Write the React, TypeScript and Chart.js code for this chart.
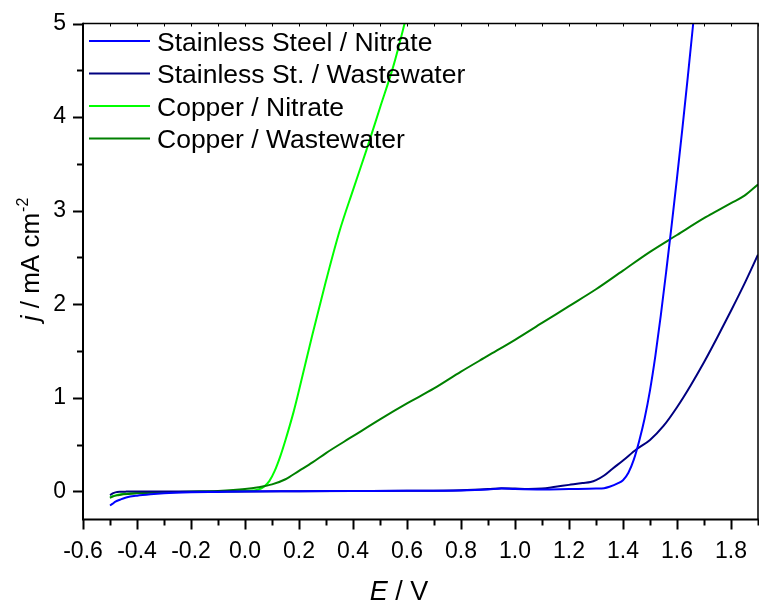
import React, { useEffect, useRef } from 'react';
import { Chart, registerables } from 'chart.js';

Chart.register(...registerables);

const FONT = '"Liberation Sans", Arial, Helvetica, sans-serif';

// ---- Data (E in V, j in mA cm^-2) ----
const ssNitrateE = [-0.5, -0.49, -0.48, -0.46, -0.44, -0.4, -0.35, -0.3, -0.2, -0.1, 0.0, 0.2, 0.4, 0.6, 0.8, 0.9, 0.95, 1.0, 1.1, 1.2, 1.3, 1.33, 1.35, 1.38, 1.4, 1.42, 1.44, 1.46, 1.48, 1.5, 1.52, 1.54, 1.56, 1.58, 1.6, 1.62, 1.64, 1.66, 1.68];
const ssNitrateJ = [-0.15, -0.13, -0.11, -0.085, -0.065, -0.045, -0.03, -0.02, -0.01, -0.005, 0.0, 0.002, 0.004, 0.006, 0.01, 0.02, 0.03, 0.025, 0.02, 0.025, 0.03, 0.035, 0.05, 0.085, 0.12, 0.2, 0.34, 0.54, 0.78, 1.08, 1.45, 1.88, 2.35, 2.84, 3.35, 3.88, 4.43, 5.0, 5.6];

const ssWasteE = [-0.5, -0.49, -0.48, -0.46, -0.44, -0.4, -0.3, -0.2, 0.0, 0.2, 0.4, 0.6, 0.8, 0.9, 0.95, 1.0, 1.05, 1.1, 1.15, 1.2, 1.25, 1.28, 1.3, 1.33, 1.36, 1.4, 1.45, 1.5, 1.55, 1.6, 1.65, 1.7, 1.75, 1.8, 1.85, 1.9];
const ssWasteJ = [-0.04, -0.02, -0.01, -0.004, -0.002, -0.001, 0.0, 0.0, 0.0, 0.002, 0.004, 0.006, 0.012, 0.025, 0.035, 0.03, 0.025, 0.03, 0.05, 0.07, 0.09, 0.1, 0.12, 0.17, 0.24, 0.33, 0.45, 0.55, 0.7, 0.9, 1.13, 1.38, 1.65, 1.93, 2.22, 2.53];

const cuNitrateE = [-0.5, -0.49, -0.47, -0.45, -0.4, -0.3, -0.2, -0.1, 0.0, 0.03, 0.05, 0.07, 0.09, 0.11, 0.13, 0.15, 0.18, 0.2, 0.25, 0.3, 0.35, 0.4, 0.45, 0.5, 0.55, 0.6];
const cuNitrateJ = [-0.065, -0.05, -0.035, -0.025, -0.015, -0.008, -0.003, 0.0, 0.005, 0.01, 0.02, 0.05, 0.11, 0.22, 0.37, 0.55, 0.85, 1.08, 1.68, 2.25, 2.78, 3.22, 3.65, 4.1, 4.55, 5.1];

const cuWasteE = [-0.5, -0.49, -0.47, -0.45, -0.4, -0.3, -0.2, -0.1, 0.0, 0.05, 0.1, 0.15, 0.2, 0.25, 0.3, 0.4, 0.5, 0.6, 0.7, 0.8, 0.9, 1.0, 1.1, 1.2, 1.3, 1.4, 1.5, 1.6, 1.7, 1.75, 1.8, 1.85, 1.9];
const cuWasteJ = [-0.07, -0.055, -0.04, -0.03, -0.02, -0.01, -0.003, 0.005, 0.025, 0.045, 0.075, 0.13, 0.22, 0.31, 0.41, 0.59, 0.77, 0.94, 1.1, 1.28, 1.45, 1.62, 1.8, 1.98, 2.16, 2.36, 2.56, 2.74, 2.92, 3.0, 3.08, 3.16, 3.28];

const seriesLabels = ['Stainless Steel / Nitrate', 'Stainless St. / Wastewater', 'Copper / Nitrate', 'Copper / Wastewater'];
const seriesColors = ['#0000ff', '#000080', '#00ff00', '#008000'];

const xTickValues = [-0.6, -0.4, -0.2, 0.0, 0.2, 0.4, 0.6, 0.8, 1.0, 1.2, 1.4, 1.6, 1.8];
const yTickValues = [0, 1, 2, 3, 4, 5];
const xMin = -0.6, xMax = 1.9, yMin = -0.3, yMax = 5;
const xMinorStep = 0.1;
const yMinorStep = 0.5;

const pts = (xs: number[], ys: number[]) => xs.map((x, i) => ({ x, y: ys[i] }));

const framePlugin = {
  id: 'frame',
  afterDraw(chart: any) {
    const { ctx, chartArea: a, scales } = chart;
    const xs = scales.x, ys = scales.y;
    ctx.save();
    ctx.strokeStyle = '#000';
    // frame
    ctx.lineWidth = 1.5;
    ctx.beginPath();
    ctx.moveTo(a.left, a.top); ctx.lineTo(a.right, a.top); ctx.lineTo(a.right, a.bottom);
    ctx.stroke();
    ctx.lineWidth = 2;
    ctx.beginPath();
    ctx.moveTo(a.left, a.top - 0.75); ctx.lineTo(a.left, a.bottom); ctx.lineTo(a.right + 0.75, a.bottom);
    ctx.stroke();
    // x ticks
    const nx = Math.round((xMax - xMin) / xMinorStep);
    for (let i = 0; i <= nx; i++) {
      const v = xMin + i * xMinorStep;
      const px = Math.round(xs.getPixelForValue(v)) + 0.5;
      const major = i % 2 === 0;
      ctx.lineWidth = 2;
      ctx.beginPath();
      ctx.moveTo(px, a.bottom);
      ctx.lineTo(px, a.bottom + (major ? 10 : 6));
      ctx.stroke();
      ctx.lineWidth = 1;
      ctx.beginPath();
      ctx.moveTo(px, a.top);
      ctx.lineTo(px, a.top + 3);
      ctx.stroke();
    }
    // y ticks
    const ny = Math.round((yMax - 0) / yMinorStep);
    for (let i = 0; i <= ny; i++) {
      const v = i * yMinorStep;
      const py = Math.round(ys.getPixelForValue(v)) + 0.5;
      const major = i % 2 === 0;
      ctx.lineWidth = 2;
      ctx.beginPath();
      ctx.moveTo(a.left, py);
      ctx.lineTo(a.left - (major ? 10 : 6), py);
      ctx.stroke();
    }
    // legend
    const lf = 26.5;
    chart.data.datasets.forEach((ds: any, i: number) => {
      const ly = a.top + 17.5 + i * 32.5;
      ctx.strokeStyle = ds.borderColor;
      ctx.lineWidth = 2;
      ctx.beginPath();
      ctx.moveTo(a.left + 6, ly);
      ctx.lineTo(a.left + 67, ly);
      ctx.stroke();
      ctx.fillStyle = '#000';
      ctx.font = `${lf}px ${FONT}`;
      ctx.textAlign = 'left';
      ctx.textBaseline = 'alphabetic';
      ctx.fillText(ds.label, a.left + 74, ly + lf * 0.36);
    });
    // x title: E / V
    const tf = 27;
    ctx.fillStyle = '#000';
    ctx.textBaseline = 'alphabetic';
    ctx.textAlign = 'left';
    ctx.font = `italic ${tf}px ${FONT}`;
    const e = 'E';
    const ew = ctx.measureText(e).width;
    ctx.font = `${tf}px ${FONT}`;
    const rest = ' / V';
    const rw = ctx.measureText(rest).width;
    const cx = 399;
    const sx = cx - (ew + rw) / 2;
    ctx.font = `italic ${tf}px ${FONT}`;
    ctx.fillText(e, sx, 600);
    ctx.font = `${tf}px ${FONT}`;
    ctx.fillText(rest, sx + ew, 600);
    // y title: j / mA cm^-2
    const yf = 26;
    const sf = 16;
    ctx.translate(38.5, 260);
    ctx.rotate(-Math.PI / 2);
    ctx.font = `italic ${yf}px ${FONT}`;
    const jw = ctx.measureText('j').width;
    ctx.font = `${yf}px ${FONT}`;
    const mid = ' / mA cm';
    const mw = ctx.measureText(mid).width;
    ctx.font = `${sf}px ${FONT}`;
    const sup = '-2';
    const sw = ctx.measureText(sup).width;
    const tx = -(jw + mw + sw) / 2;
    ctx.font = `italic ${yf}px ${FONT}`;
    ctx.fillText('j', tx, 0);
    ctx.font = `${yf}px ${FONT}`;
    ctx.fillText(mid, tx + jw, 0);
    ctx.font = `${sf}px ${FONT}`;
    ctx.fillText(sup, tx + jw + mw + 1, -11);
    ctx.restore();
  },
};

export default function App() {
  const ref = useRef<HTMLCanvasElement>(null);
  useEffect(() => {
    document.body.style.margin = '0';
    const canvas = ref.current!;
    const datasets = [
      pts(ssNitrateE, ssNitrateJ),
      pts(ssWasteE, ssWasteJ),
      pts(cuNitrateE, cuNitrateJ),
      pts(cuWasteE, cuWasteJ),
    ].map((data, i) => ({
      label: seriesLabels[i],
      data,
      borderColor: seriesColors[i],
      backgroundColor: seriesColors[i],
      borderWidth: 2,
      pointRadius: 0,
      fill: false,
      cubicInterpolationMode: 'monotone' as const,
      order: [1, 2, 4, 3][i],
    }));
    const chart = new Chart(canvas, {
      type: 'line',
      data: { datasets },
      options: {
        responsive: false,
        animation: false,
        devicePixelRatio: 1,
        layout: { padding: { top: 23.5, right: 1, left: 0, bottom: 0 } },
        plugins: { legend: { display: false }, tooltip: { enabled: false } },
        scales: {
          x: {
            type: 'linear',
            min: xMin,
            max: xMax,
            afterBuildTicks: (s: any) => { s.ticks = xTickValues.map((v) => ({ value: v })); },
            afterFit: (s: any) => { s.height = 85.5; s.paddingLeft = 0; s.paddingRight = 0; },
            grid: { display: false, drawTicks: false },
            border: { display: false },
            ticks: {
              color: '#000',
              font: { family: FONT, size: 23 },
              padding: 18,
              maxRotation: 0,
              autoSkip: false,
              callback: (v: any) => Number(v).toFixed(1),
            },
          },
          y: {
            type: 'linear',
            min: yMin,
            max: yMax,
            afterBuildTicks: (s: any) => { s.ticks = yTickValues.map((v) => ({ value: v })); },
            afterFit: (s: any) => { s.width = 83; s.paddingTop = 0; s.paddingBottom = 0; },
            grid: { display: false, drawTicks: false },
            border: { display: false },
            ticks: {
              color: '#000',
              font: { family: FONT, size: 23 },
              padding: 17,
              autoSkip: false,
              callback: (v: any) => String(v),
            },
          },
        },
      },
      plugins: [framePlugin],
    });
    return () => chart.destroy();
  }, []);
  return (
    <div style={{ position: 'absolute', left: 0, top: 0, width: 759, height: 605 }}>
      <canvas ref={ref} width={759} height={605} style={{ display: 'block', width: 759, height: 605 }} />
    </div>
  );
}
